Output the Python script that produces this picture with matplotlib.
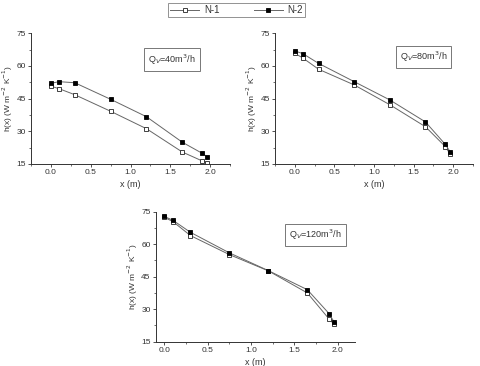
import matplotlib
matplotlib.use("Agg")
import matplotlib.pyplot as plt
from matplotlib.ticker import MultipleLocator

plt.rcParams['font.family'] = ['Liberation Sans', 'DejaVu Sans']

x_pos = [0.0, 0.1, 0.3, 0.75, 1.2, 1.65, 1.9, 1.96]

n1_40 = [50.7, 49.6, 46.8, 39.2, 31.2, 20.5, 16.4, 15.6]
n2_40 = [52.0, 52.8, 52.3, 44.7, 36.7, 25.0, 19.9, 18.4]

n1_80 = [65.8, 63.7, 58.5, 51.3, 42.2, 32.1, 23.0, 19.6]
n2_80 = [66.9, 65.7, 61.2, 52.8, 44.4, 34.3, 24.0, 20.7]

n1_120 = [72.4, 70.4, 64.0, 55.2, 47.7, 37.5, 25.5, 23.0]
n2_120 = [72.8, 71.0, 65.5, 56.0, 47.8, 39.0, 28.0, 24.0]

series_labels = ["N-1", "N-2"]
flow_labels = ["Q$_V$=40m$^3$/h", "Q$_V$=80m$^3$/h", "Q$_V$=120m$^3$/h"]

fig = plt.figure(figsize=(4.8, 3.66), dpi=100)

axes_rects = [
    (0.0646, 0.552, 0.4146, 0.357),
    (0.5729, 0.552, 0.4125, 0.357),
    (0.3244, 0.0664, 0.4152, 0.3552),
]
xlims = [(-0.25, 2.25), (-0.25, 2.25), (-0.1, 2.2)]
data = [(n1_40, n2_40), (n1_80, n2_80), (n1_120, n2_120)]
box_pos = [(0.71, 0.80), (0.75, 0.82), (0.80, 0.82)]

txt_col = '#333333'
line_col = '#666666'
handles = None
for i, rect in enumerate(axes_rects):
    ax = fig.add_axes(rect)
    n1, n2 = data[i]
    h1, = ax.plot(x_pos, n1, '-', color=line_col, lw=0.7, marker='s', ms=3.2,
                  mfc='white', mec='#222222', mew=0.6, label=series_labels[0])
    h2, = ax.plot(x_pos, n2, '-', color=line_col, lw=0.7, marker='s', ms=3.2,
                  mfc='black', mec='black', mew=0.6, label=series_labels[1])
    if handles is None:
        handles = [h1, h2]
    ax.set_xlim(*xlims[i])
    ax.set_ylim(15, 75)
    ax.set_yticks([15, 30, 45, 60, 75])
    ax.set_xticks([0.0, 0.5, 1.0, 1.5, 2.0])
    ax.xaxis.set_minor_locator(MultipleLocator(0.25))
    ax.yaxis.set_minor_locator(MultipleLocator(7.5))
    ax.spines['top'].set_visible(False)
    ax.spines['right'].set_visible(False)
    for s in ['left', 'bottom']:
        ax.spines[s].set_linewidth(0.7)
        ax.spines[s].set_color('#333333')
    ax.tick_params(which='major', direction='out', length=2.5, width=0.6,
                   labelsize=6, colors='#333333', pad=1.2)
    ax.tick_params(which='minor', direction='out', length=1.5, width=0.5,
                   colors='#333333')
    ax.xaxis.set_major_formatter(matplotlib.ticker.FormatStrFormatter('%.1f'))
    ax.set_xlabel('x (m)', fontsize=6.5, color=txt_col, labelpad=3)
    ax.set_ylabel('h(x) (W m$^{-2}$ K$^{-1}$)', fontsize=6, color=txt_col,
                  labelpad=1)
    ax.text(box_pos[i][0], box_pos[i][1], flow_labels[i], transform=ax.transAxes,
            ha='center', va='center', fontsize=6.5, color=txt_col,
            bbox=dict(boxstyle='square,pad=0.45', fc='white', ec='#777777', lw=0.7))

leg = fig.legend(handles=handles, labels=series_labels, loc='center',
                 bbox_to_anchor=(236.5 / 480, 1 - 10 / 366), ncol=2,
                 fontsize=7, frameon=True, fancybox=False, edgecolor='#777777',
                 handlelength=3.0, columnspacing=3.5, borderpad=0.25,
                 handletextpad=0.5)
leg.get_frame().set_linewidth(0.7)
for t in leg.get_texts():
    t.set_color(txt_col)

fig.savefig('out.png', dpi=100)
